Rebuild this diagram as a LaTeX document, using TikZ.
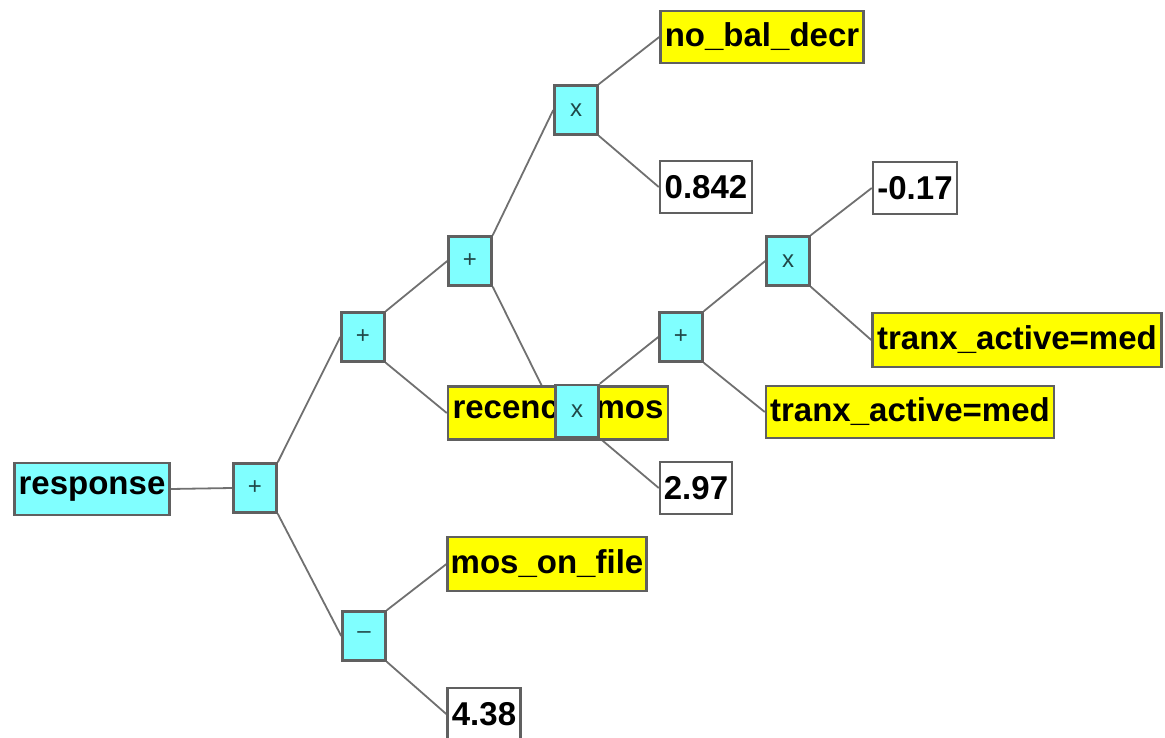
\documentclass[tikz,border=0pt]{standalone}
\usepackage{fontspec}
\setmainfont{Liberation Sans}
\pgfdeclarelayer{background}
\pgfsetlayers{background,main}
\definecolor{opcyan}{HTML}{80FFFF}
\definecolor{varyellow}{HTML}{FFFF00}
\definecolor{boxborder}{HTML}{606060}
\definecolor{edgecol}{HTML}{707070}
\definecolor{optext}{HTML}{204848}
\begin{document}
\begin{tikzpicture}[x=1pt,y=-1pt,
  base/.style={draw=boxborder, line width=2.5pt, inner ysep=0pt, inner xsep=3pt, minimum height=52pt,
    font=\fontsize{33}{36}\selectfont\bfseries, text=black},
  op/.style={draw=boxborder, fill=opcyan, line width=2.5pt, minimum width=43pt, minimum height=49pt,
    inner sep=0pt, font=\fontsize{24}{24}\selectfont, text=optext},
  cyanbox/.style={base, fill=opcyan},
  varbox/.style={base, fill=varyellow},
  numbox/.style={base, fill=white},
  edge/.style={draw=edgecol, line width=1.8pt}
]
\useasboundingbox (0,0) rectangle (1165,738);

\node[cyanbox, minimum width=155pt] (resp) at (92,489) {response};
\node[op] (p0) at (255,488) {+};
\node[op] (p1) at (363,337) {+};
\node[op] (mn) at (364,636) {\raisebox{2pt}{--}};
\node[op] (p2) at (470,261) {+};
\node[op] (t1) at (576,110) {x};
\node[varbox, minimum width=203pt] (nbd) at (762,37) {no\_bal\_decr};
\node[numbox, minimum width=92pt] (n842) at (706,187) {0.842};
\node[varbox, minimum width=220pt, minimum height=53pt] (rec) at (558,413) {recency\_mos};
\node[op, minimum height=52pt] (t2) at (577,411) {x};
\node[op] (p3) at (681,337) {+};
\node[op] (t3) at (788,261) {x};
\node[numbox, minimum width=84pt] (m017) at (915,188) {-0.17};
\node[varbox, minimum width=289pt, minimum height=54pt] (ta1) at (1017,340) {tranx\_active=med};
\node[varbox, minimum width=288pt] (ta2) at (910,412) {tranx\_active=med};
\node[numbox, minimum width=72pt] (n297) at (696,488) {2.97};
\node[varbox, minimum width=198pt, minimum height=54pt] (mof) at (547,564) {mos\_on\_file};
\node[numbox, minimum width=73pt] (n438) at (484,714) {4.38};

\begin{pgfonlayer}{background}
\draw[edge] (resp.east) -- (p0.west);
\draw[edge] (p0.north east) -- (p1.west);
\draw[edge] (p0.south east) -- (mn.west);
\draw[edge] (p1.north east) -- (p2.west);
\draw[edge] (p1.south east) -- (rec.west);
\draw[edge] (p2.north east) -- (t1.west);
\draw[edge] (p2.south east) -- (t2.west);
\draw[edge] (t1.north east) -- (nbd.west);
\draw[edge] (t1.south east) -- (n842.west);
\draw[edge] (t2.north east) -- (p3.west);
\draw[edge] (t2.south east) -- (n297.west);
\draw[edge] (p3.north east) -- (t3.west);
\draw[edge] (p3.south east) -- (ta2.west);
\draw[edge] (t3.north east) -- (m017.west);
\draw[edge] (t3.south east) -- (ta1.west);
\draw[edge] (mn.north east) -- (mof.west);
\draw[edge] (mn.south east) -- (n438.west);
\end{pgfonlayer}
\end{tikzpicture}
\end{document}
